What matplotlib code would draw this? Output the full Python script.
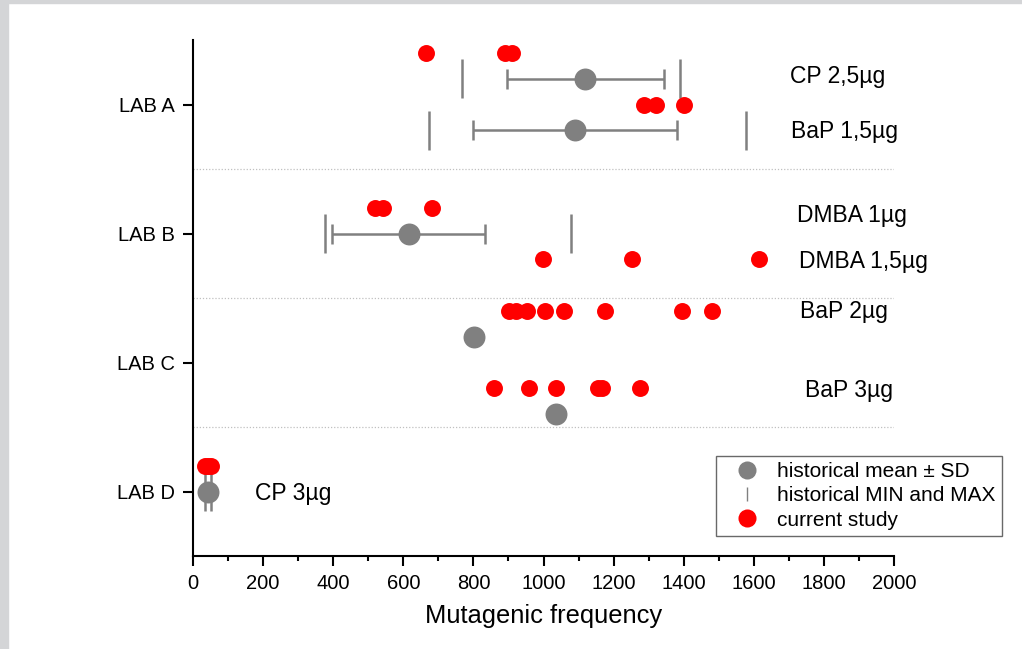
import matplotlib.pyplot as plt
from matplotlib.lines import Line2D
from matplotlib.patches import Rectangle

plt.rcParams['font.family'] = ['Liberation Sans', 'DejaVu Sans']

# labs on the y axis (top to bottom)
labs = ["LAB A", "LAB B", "LAB C", "LAB D"]

# one entry per treatment
series_lab = ["LAB A", "LAB A", "LAB B", "LAB B", "LAB C", "LAB C", "LAB D"]
series_name = ["CP 2,5µg", "BaP 1,5µg", "DMBA 1µg", "DMBA 1,5µg", "BaP 2µg", "BaP 3µg", "CP 3µg"]
hist_mean = [1119, 1091, 615, None, 803, 1035, 43]
hist_sd = [224, 291, 217, None, None, None, None]
hist_min = [768, 673, 376, None, None, None, 33]
hist_max = [1389, 1578, 1078, None, None, None, 52]
current = [
    [664, 889, 909],
    [1288, 1321, 1401],
    [518, 542, 681],
    [998, 1252, 1614],
    [902, 922, 952, 1004, 1059, 1175, 1395, 1482],
    [859, 958, 1035, 1156, 1168, 1275],
    [33, 43, 51],
]

# layout: vertical offsets within a lab row, and where the names go
hist_off = [0.2, -0.2, 0.0, None, 0.2, -0.4, 0.0]
cur_off = [0.4, 0.0, 0.2, -0.2, 0.4, -0.2, 0.2]
name_xy = [(1702, 3.164), (1707, 2.738), (1724, 2.091), (1730, 1.730),
           (1733, 1.345), (1745, 0.735), (177, -0.066)]

GRAY = "#808080"
RED = "#ff0000"

fig = plt.figure(figsize=(10.22, 6.49), dpi=100)
fig.patches.append(Rectangle((0, 0), 8 / 1022, 1, transform=fig.transFigure,
                             color="#d4d5d7", zorder=0))
fig.patches.append(Rectangle((0, 1 - 3 / 649), 1, 3 / 649, transform=fig.transFigure,
                             color="#d4d5d7", zorder=0))
ax = fig.add_axes([193 / 1022, 1 - 556 / 649, 701 / 1022, 516 / 649])

lab_y = {lab: len(labs) - 1 - i for i, lab in enumerate(labs)}

for i in range(len(series_name)):
    base = lab_y[series_lab[i]]
    if hist_mean[i] is not None:
        y = base + hist_off[i]
        if hist_sd[i] is not None:
            ax.errorbar(hist_mean[i], y, xerr=hist_sd[i], fmt="none", ecolor=GRAY,
                        elinewidth=1.8, capsize=7.5, capthick=1.8, zorder=2)
        if hist_min[i] is not None:
            ax.vlines([hist_min[i], hist_max[i]], y - 0.15, y + 0.15,
                      color=GRAY, linewidth=1.8, zorder=2)
        ax.plot(hist_mean[i], y, "o", color=GRAY, markersize=15.8,
                markeredgewidth=0, zorder=3)
    yc = base + cur_off[i]
    ax.plot(current[i], [yc] * len(current[i]), "o", color=RED, markersize=12.2,
            markeredgewidth=0, linestyle="none", zorder=4)
    ax.text(name_xy[i][0], name_xy[i][1], series_name[i], fontsize=16.5,
            va="baseline", ha="left")

for sep in [0.5, 1.5, 2.5]:
    ax.axhline(sep, color="#c0c0c0", linestyle=(0, (1, 1.5)), linewidth=0.9, zorder=1)

ax.set_xlim(0, 2000)
ax.set_ylim(-0.5, 3.5)
ax.set_xticks(range(0, 2001, 200))
ax.set_xticks(range(100, 2000, 200), minor=True)
ax.set_yticks([lab_y[l] for l in labs])
ax.set_yticklabels(labs)
ax.spines["top"].set_visible(False)
ax.spines["right"].set_visible(False)
ax.spines["left"].set_linewidth(1.5)
ax.spines["bottom"].set_linewidth(1.5)
ax.tick_params(axis="both", which="major", length=7, width=1.5, labelsize=14.5, pad=6)
ax.tick_params(axis="x", which="minor", length=3.5, width=1.5)
ax.set_xlabel("Mutagenic frequency", fontsize=18.4, labelpad=8)

handles = [
    Line2D([], [], marker="o", color=GRAY, linestyle="none", markersize=13, markeredgewidth=0),
    Line2D([], [], marker="|", color=GRAY, linestyle="none", markersize=10, markeredgewidth=1),
    Line2D([], [], marker="o", color=RED, linestyle="none", markersize=13, markeredgewidth=0),
]
leg = ax.legend(handles, ["historical mean ± SD", "historical MIN and MAX", "current study"],
                loc="upper left", bbox_to_anchor=(716 / 1022, 1 - 456 / 649),
                bbox_transform=fig.transFigure, fontsize=15, frameon=True,
                fancybox=False, borderpad=0.3, handlelength=2.4, handletextpad=0.25,
                labelspacing=0.25, borderaxespad=0)
leg.get_frame().set_edgecolor("#444444")
leg.get_frame().set_linewidth(1)

fig.savefig("out.png", dpi=100)
